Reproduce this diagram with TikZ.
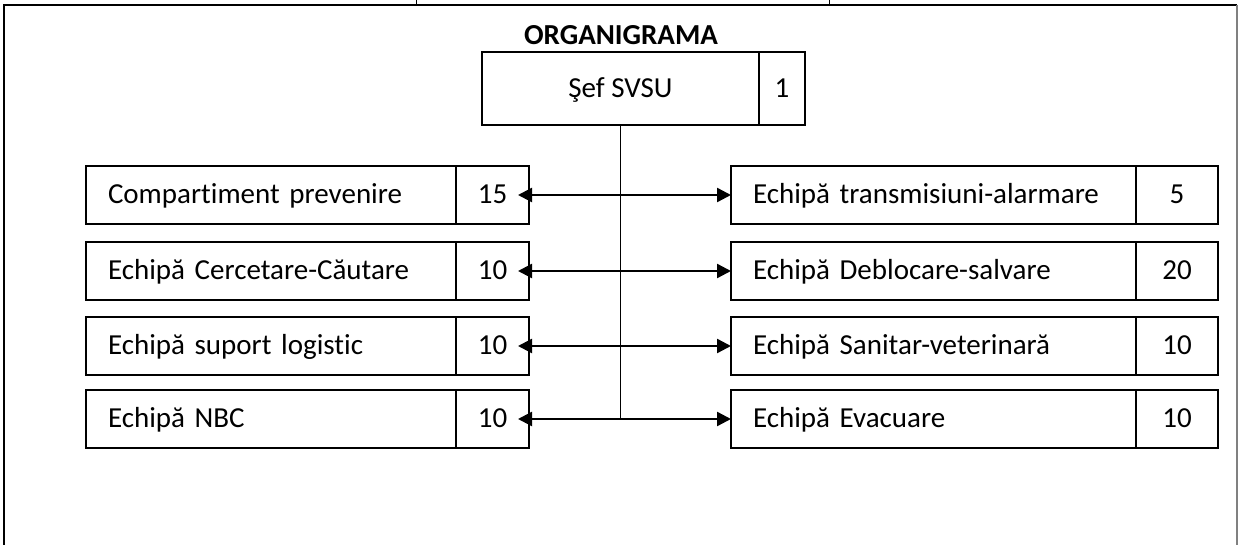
\documentclass[tikz,border=0pt]{standalone}
\usepackage{fontspec}
\setmainfont{Carlito}[Ligatures=NoCommon]
\usetikzlibrary{positioning,arrows.meta}

\begin{document}
\begin{tikzpicture}[x=0.5pt, y=-0.5pt,
          font=\fontsize{14.5pt}{17pt}\selectfont,
          unit/.style={draw, line width=1pt, outer sep=0pt, minimum height=29pt, inner xsep=11pt, inner ysep=0pt,
            text height=11pt, text depth=2pt, align=left},
          lunit/.style={unit, text width=163pt},
          runit/.style={unit, text width=180.5pt},
          count/.style={draw, line width=1pt, outer sep=0pt, minimum height=29pt, inner sep=0pt,
            text height=11pt, text depth=2pt},
          link/.style={{Triangle[length=7pt,width=7pt]}-{Triangle[length=7pt,width=7pt]}, line width=1.2pt}
        ]
          \useasboundingbox (0,0) rectangle (1239,545);

          % page frame
          \draw[line width=1.3pt] (4,545) -- (4,5) -- (1237,5);
          \draw[gray, line width=0.7pt] (1237,5) -- (1237,545);
          \draw[line width=0.5pt] (416,0) -- (416,5);
          \draw[line width=0.5pt] (829,0) -- (829,5);

          \node[font=\fontsize{14.5pt}{17pt}\selectfont\bfseries] (title) at (621,35.5) {ORGANIGRAMA};

          \node[draw, line width=1pt, outer sep=0pt, minimum width=138.5pt, minimum height=36.5pt,
            text height=11pt, text depth=2pt] (sef) at (620.5,88.5) {Şef SVSU};
          \node[count, minimum width=23pt, minimum height=36.5pt, right=0pt of sef] (sefn) {1};

          \node[lunit, anchor=west] (prev) at (86,195) {Compartiment prevenire};
          \node[count, minimum width=36.5pt, right=0pt of prev] (prevn) {15};
          \node[lunit, anchor=west] (cerc) at (86,271) {Echipă Cercetare-Căutare};
          \node[count, minimum width=36.5pt, right=0pt of cerc] (cercn) {10};
          \node[lunit, anchor=west] (logi) at (86,346) {Echipă suport logistic};
          \node[count, minimum width=36.5pt, right=0pt of logi] (login) {10};
          \node[lunit, anchor=west] (nbc) at (86,419) {Echipă NBC};
          \node[count, minimum width=36.5pt, right=0pt of nbc] (nbcn) {10};

          \node[runit, anchor=west] (tran) at (731,195) {Echipă transmisiuni-alarmare};
          \node[count, minimum width=41pt, right=0pt of tran] (trann) {5};
          \node[runit, anchor=west] (debl) at (731,271) {Echipă Deblocare-salvare};
          \node[count, minimum width=41pt, right=0pt of debl] (debln) {20};
          \node[runit, anchor=west] (sani) at (731,346) {Echipă Sanitar-veterinară};
          \node[count, minimum width=41pt, right=0pt of sani] (sanin) {10};
          \node[runit, anchor=west] (evac) at (731,419) {Echipă Evacuare};
          \node[count, minimum width=41pt, right=0pt of evac] (evacn) {10};

          \draw[line width=0.6pt] (sef.south) -- (sef.south |- nbcn.east);

          \draw[link] ([xshift=-5.5pt]prevn.east) -- (tran.west);
          \draw[link] ([xshift=-5.5pt]cercn.east) -- (debl.west);
          \draw[link] ([xshift=-5.5pt]login.east) -- (sani.west);
          \draw[link] ([xshift=-5.5pt]nbcn.east) -- (evac.west);
        \end{tikzpicture}
\end{document}
